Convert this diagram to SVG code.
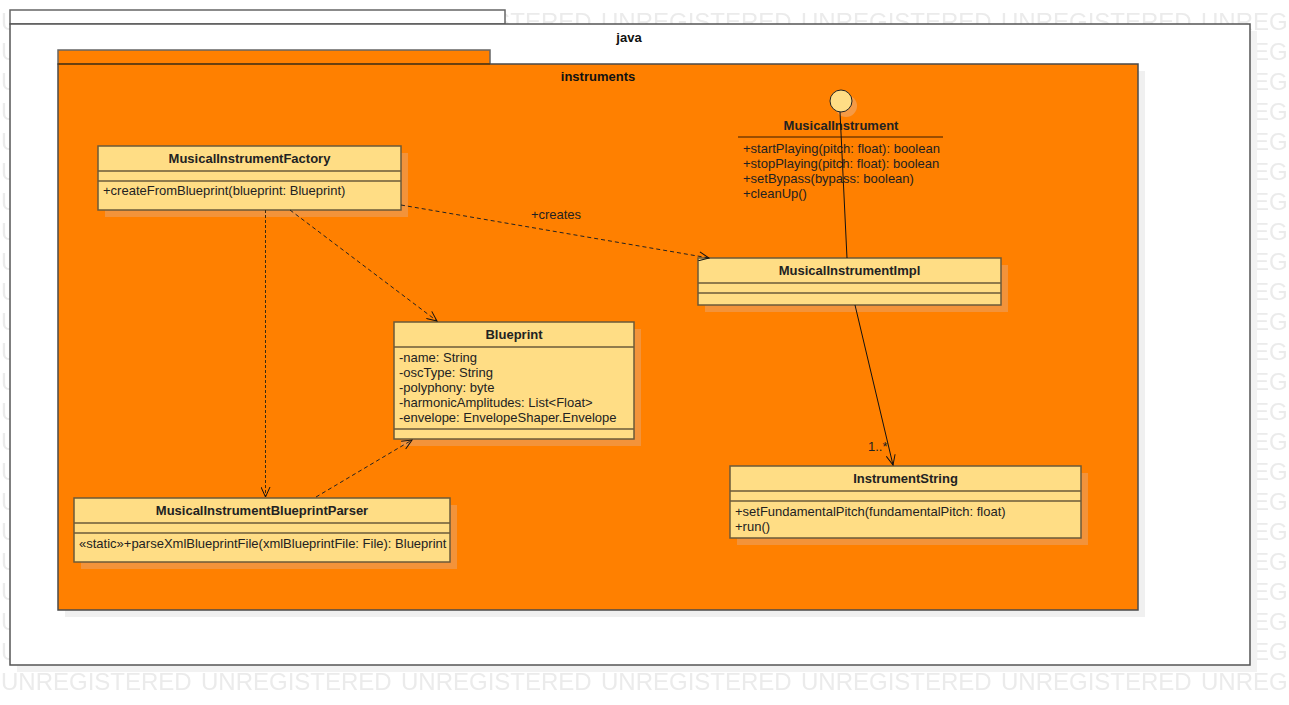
<svg xmlns="http://www.w3.org/2000/svg" width="1289" height="705" viewBox="0 0 1289 705">
<style>
.wm{font-family:"Liberation Sans",Arial,sans-serif;font-size:24px;fill:#ebebeb}
.pkg{font-family:"Liberation Sans",Arial,sans-serif;font-size:13px;font-weight:bold;fill:#111;text-anchor:middle}
.cls{fill:#ffdd85;stroke:#6b5a3a;stroke-width:1.5}
.shd{fill:#f3933a}
.name{font-family:"Liberation Sans",Arial,sans-serif;font-size:13px;font-weight:bold;fill:#222;text-anchor:middle}
.mem{font-family:"Liberation Sans",Arial,sans-serif;font-size:13px;fill:#222}
.sep{stroke:#6b5a3a;stroke-width:1.5}
.dash{fill:none;stroke:#222;stroke-width:1;stroke-dasharray:4,3}
.solid{fill:none;stroke:#111;stroke-width:1}
.lbl{font-family:"Liberation Sans",Arial,sans-serif;font-size:13px;fill:#222}
</style>
<defs>
<marker id="open" viewBox="0 0 12 10" refX="11" refY="5" markerWidth="12" markerHeight="10" markerUnits="userSpaceOnUse" orient="auto">
<path d="M1,0.5 L11,5 L1,9.5" fill="none" stroke="#111" stroke-width="1"/>
</marker>
<pattern id="wmpat" x="0" y="0" width="200" height="30" patternUnits="userSpaceOnUse">
<text class="wm" x="1" y="30">UNREGISTERED</text>
</pattern>
</defs>
<rect width="1289" height="705" fill="#ffffff"/>
<g id="watermark">
<rect x="0" y="0" width="1289" height="691" fill="url(#wmpat)"/>
</g>
<g id="pkg-java">
<rect x="17" y="31" width="1240" height="641" fill="#f2f2f2"/>
<rect x="10" y="10" width="495" height="14" fill="#ffffff" stroke="#666" stroke-width="1.5"/>
<rect x="10" y="24" width="1240" height="641" fill="#ffffff" stroke="#555" stroke-width="1.5"/>
<text class="pkg" x="629" y="42">java</text>
</g>
<g id="pkg-instruments">
<rect x="65" y="71" width="1080" height="546" fill="#f0f0f0"/>
<rect x="58" y="50" width="432" height="14" fill="#ff8000" stroke="#666" stroke-width="1.5"/>
<rect x="58" y="64" width="1080" height="546" fill="#ff8000" stroke="#4a4a4a" stroke-width="1.5"/>
<line x1="58" y1="64" x2="490" y2="64" stroke="#6b3a00" stroke-width="1.5"/>
<text class="pkg" x="598" y="81">instruments</text>
</g>
<g id="MusicalInstrumentFactory">
<rect class="shd" x="105" y="153" width="303" height="64"/>
<rect class="cls" x="98" y="146" width="303" height="64"/>
<line class="sep" x1="98" y1="171" x2="401" y2="171"/>
<line class="sep" x1="98" y1="181" x2="401" y2="181"/>
<text class="name" x="249.5" y="163">MusicalInstrumentFactory</text>
<text class="mem" x="103" y="195">+createFromBlueprint(blueprint: Blueprint)</text>
</g>
<g id="MusicalInstrument">
<circle cx="846" cy="106" r="11" fill="#f59a45"/>
<circle cx="841" cy="101" r="11" fill="#ffdd85" stroke="#222" stroke-width="1"/>
<text class="name" x="841" y="130">MusicalInstrument</text>
<line x1="738" y1="137" x2="943" y2="137" stroke="#7a3c00" stroke-width="1.5"/>
<text class="mem" x="743" y="153">+startPlaying(pitch: float): boolean</text>
<text class="mem" x="743" y="168">+stopPlaying(pitch: float): boolean</text>
<text class="mem" x="743" y="183">+setBypass(bypass: boolean)</text>
<text class="mem" x="743" y="198">+cleanUp()</text>
</g>
<g id="MusicalInstrumentImpl">
<rect class="shd" x="705" y="265" width="303" height="47"/>
<rect class="cls" x="698" y="258" width="303" height="47"/>
<line class="sep" x1="698" y1="283" x2="1001" y2="283"/>
<line class="sep" x1="698" y1="293" x2="1001" y2="293"/>
<text class="name" x="849.5" y="275">MusicalInstrumentImpl</text>
</g>
<g id="Blueprint">
<rect class="shd" x="401" y="329" width="240" height="117"/>
<rect class="cls" x="394" y="322" width="240" height="117"/>
<line class="sep" x1="394" y1="347" x2="634" y2="347"/>
<line class="sep" x1="394" y1="429" x2="634" y2="429"/>
<text class="name" x="514" y="339">Blueprint</text>
<text class="mem" x="399" y="362">-name: String</text>
<text class="mem" x="399" y="377">-oscType: String</text>
<text class="mem" x="399" y="392">-polyphony: byte</text>
<text class="mem" x="399" y="407">-harmonicAmplitudes: List&lt;Float&gt;</text>
<text class="mem" x="399" y="422">-envelope: EnvelopeShaper.Envelope</text>
</g>
<g id="MusicalInstrumentBlueprintParser">
<rect class="shd" x="81" y="505" width="376" height="64"/>
<rect class="cls" x="74" y="498" width="376" height="64"/>
<line class="sep" x1="74" y1="523" x2="450" y2="523"/>
<line class="sep" x1="74" y1="533" x2="450" y2="533"/>
<text class="name" x="262" y="515">MusicalInstrumentBlueprintParser</text>
<text class="mem" x="79" y="548">«static»+parseXmlBlueprintFile(xmlBlueprintFile: File): Blueprint</text>
</g>
<g id="InstrumentString">
<rect class="shd" x="737" y="473" width="351" height="72"/>
<rect class="cls" x="730" y="466" width="351" height="72"/>
<line class="sep" x1="730" y1="491" x2="1081" y2="491"/>
<line class="sep" x1="730" y1="501" x2="1081" y2="501"/>
<text class="name" x="905.5" y="483">InstrumentString</text>
<text class="mem" x="735" y="516">+setFundamentalPitch(fundamentalPitch: float)</text>
<text class="mem" x="735" y="531">+run()</text>
</g>
<g id="connectors">
<line class="solid" x1="840" y1="112" x2="847" y2="258"/>
<line class="dash" x1="401" y1="205" x2="709" y2="258" marker-end="url(#open)"/>
<text class="lbl" x="556" y="219" text-anchor="middle">+creates</text>
<line class="dash" x1="290" y1="210" x2="437" y2="321" marker-end="url(#open)"/>
<line class="dash" x1="265.5" y1="210" x2="265.5" y2="497" style="stroke:#3a2a10;stroke-dasharray:3,2" marker-end="url(#open)"/>
<line class="dash" x1="316" y1="497" x2="412" y2="440" marker-end="url(#open)"/>
<line class="solid" x1="855" y1="305" x2="893" y2="465" marker-end="url(#open)"/>
<text class="lbl" x="868" y="451">1..*</text>
</g>
</svg>
